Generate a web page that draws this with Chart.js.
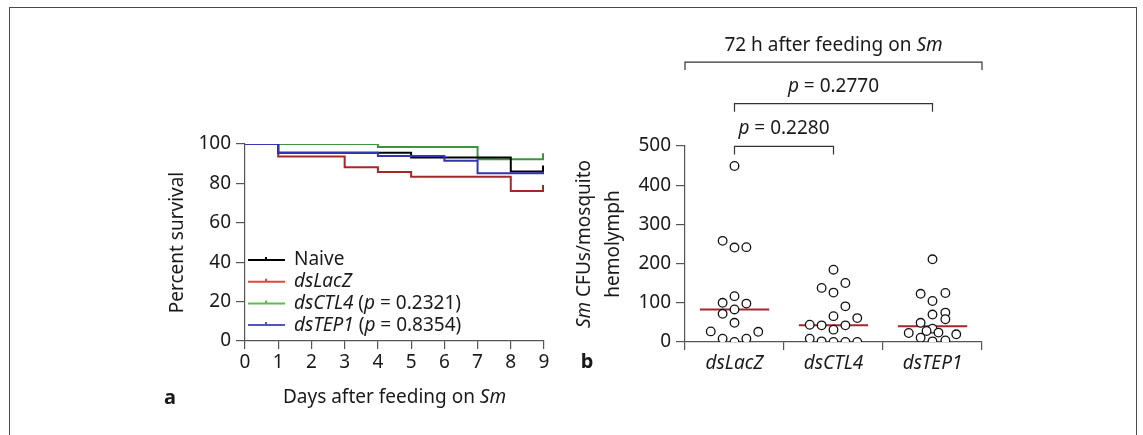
<!DOCTYPE html>
<html>
<head>
<meta charset="utf-8">
<script src="https://cdn.jsdelivr.net/npm/chart.js@4.4.1/dist/chart.umd.min.js"></script>
<style>
html, body { margin: 0; padding: 0; background: #fff; overflow: hidden; }
body { width: 1143px; height: 435px; position: relative; }
#frame { position: absolute; left: 9px; top: 7px; width: 1128px; height: 470px; border: 1px solid #4a4a4a; box-sizing: border-box; }
#boxA { position: absolute; left: 140px; top: 120px; width: 420px; height: 300px; }
#boxB { position: absolute; left: 570px; top: 20px; width: 430px; height: 380px; }
</style>
</head>
<body>
<div id="frame"></div>
<div id="boxA"><canvas id="survivalChart"></canvas></div>
<div id="boxB"><canvas id="cfuChart"></canvas></div>
<script>
// ---- panel a: survival curves (day of change, percent after change) ----
var naiveDays  = [0, 1, 5, 8, 9];
var naiveSurv  = [100, 95.6, 93.2, 86, 86];
var lacZDays   = [0, 1, 3, 4, 5, 8, 9];
var lacZSurv   = [100, 93.6, 88.2, 85.8, 83.4, 76.1, 76.1];
var ctl4Days   = [0, 4, 7, 9];
var ctl4Surv   = [100, 98.5, 92.2, 92.2];
var tep1Days   = [0, 1, 4, 6, 7, 9];
var tep1Surv   = [100, 95.6, 93.9, 91.5, 85.1, 85.1];
var legendNames = ['Naive', 'dsLacZ', 'dsCTL4', 'dsTEP1'];
var legendP     = [null, null, '0.2321', '0.8354'];

// ---- panel b: CFUs per mosquito ----
var groups      = ['dsLacZ', 'dsCTL4', 'dsTEP1'];
var lacZCfu     = [449, 258, 241, 242, 117, 100, 98, 72, 83, 49, 27, 26, 8.5, 0, 8.5];
var lacZJitter  = [0, -0.12, 0, 0.12, 0, -0.12, 0.12, -0.12, 0, 0, -0.24, 0.24, -0.12, 0, 0.12];
var ctl4Cfu     = [184.5, 150.5, 138, 126, 91, 61, 66, 44, 42.5, 42.5, 31.5, 8.5, 1.7, 0, 0, 0];
var ctl4Jitter  = [0, 0.12, -0.12, 0, 0.12, 0.24, 0, -0.24, -0.12, 0.12, 0, -0.24, -0.12, 0, 0.12, 0.24];
var tep1Cfu     = [211, 123, 125, 104.6, 70, 75, 58, 49, 34, 23, 28, 24, 19.6, 11, 1.7, 4];
var tep1Jitter  = [0, -0.12, 0.13, 0, 0, 0.13, 0.13, -0.12, 0, -0.24, -0.06, 0.06, 0.24, -0.12, 0, 0.13];
var medians     = [83, 42.5, 40];
var pValues     = ['0.2280', '0.2770'];

var FONT = '"Noto Sans", "Open Sans", sans-serif';
var TEXT = '#1a1a1a';
var AXIS = '#555';
var FS = 19;

function font(italic, size, bold) {
  return (italic ? 'italic ' : '') + (bold ? 'bold ' : '') + size + 'px ' + FONT;
}

// draws a run of [text, italic] pieces on one baseline
function drawRich(ctx, parts, x, y, size, align) {
  var w = 0;
  parts.forEach(function (p) { ctx.font = font(p[1], size); w += ctx.measureText(p[0]).width; });
  var cx = align === 'center' ? x - w / 2 : (align === 'right' ? x - w : x);
  ctx.textAlign = 'left';
  ctx.textBaseline = 'middle';
  ctx.fillStyle = TEXT;
  parts.forEach(function (p) {
    ctx.font = font(p[1], size);
    ctx.fillText(p[0], cx, y);
    cx += ctx.measureText(p[0]).width;
  });
}

function pts(xs, ys) {
  return xs.map(function (x, i) { return {x: x, y: ys[i]}; });
}

var lineColors   = ['#000000', '#a52828', '#3d943d', '#3434b4'];
var legendColors = ['#000000', '#e0483c', '#5cbc4e', '#5252c2'];

function survSet(days, surv, color) {
  return {
    data: pts(days, surv),
    borderColor: color,
    borderWidth: 2,
    stepped: 'before',
    pointRadius: 0,
    fill: false
  };
}

var survivalChart = new Chart(document.getElementById('survivalChart'), {
  type: 'line',
  data: {
    // first dataset is drawn on top
    datasets: [
      survSet(tep1Days, tep1Surv, lineColors[3]),
      survSet(naiveDays, naiveSurv, lineColors[0]),
      survSet(ctl4Days, ctl4Surv, lineColors[2]),
      survSet(lacZDays, lacZSurv, lineColors[1])
    ]
  },
  options: {
    animation: false,
    responsive: true,
    maintainAspectRatio: false,
    layout: { padding: { top: 24, right: 16, left: 0, bottom: 0 } },
    plugins: { legend: { display: false }, tooltip: { enabled: false } },
    scales: {
      x: {
        type: 'linear', min: 0, max: 9,
        ticks: { stepSize: 1, color: TEXT, font: { family: FONT, size: FS }, padding: 2 },
        grid: { drawOnChartArea: false, tickLength: 8, color: AXIS, lineWidth: 1.2 },
        border: { color: AXIS, width: 1.2 },
        afterFit: function (s) { s.height = 79; }
      },
      y: {
        min: 0, max: 100,
        ticks: { stepSize: 20, color: TEXT, font: { family: FONT, size: FS }, padding: 5 },
        grid: { drawOnChartArea: false, tickLength: 9, color: AXIS, lineWidth: 1.2 },
        border: { color: AXIS, width: 1.2 },
        afterFit: function (s) { s.width = 105; }
      }
    }
  },
  plugins: [{
    id: 'survivalDecor',
    afterDatasetsDraw: function (chart) {
      var ctx = chart.ctx;
      ctx.save();
      // censor ticks at the end of each curve
      chart.data.datasets.forEach(function (ds, i) {
        var els = chart.getDatasetMeta(i).data;
        var last = els[els.length - 1];
        ctx.strokeStyle = ds.borderColor;
        ctx.lineWidth = 2;
        ctx.beginPath();
        ctx.moveTo(last.x - 1, last.y);
        ctx.lineTo(last.x - 1, last.y - 6);
        ctx.stroke();
      });
      ctx.restore();
    },
    afterDraw: function (chart) {
      var ctx = chart.ctx;
      var a = chart.chartArea;
      ctx.save();
      // legend
      for (var i = 0; i < legendNames.length; i++) {
        var y = a.bottom - 81 + i * 21.7;
        ctx.strokeStyle = legendColors[i];
        ctx.lineWidth = 2;
        ctx.beginPath();
        ctx.moveTo(a.left + 3, y);
        ctx.lineTo(a.left + 40, y);
        ctx.moveTo(a.left + 21, y);
        ctx.lineTo(a.left + 21, y - 3);
        ctx.stroke();
        var parts = [[legendNames[i], i > 0]];
        if (legendP[i]) parts.push([' (', false], ['p', true], [' = ' + legendP[i] + ')', false]);
        drawRich(ctx, parts, a.left + 49, y, FS, 'left');
      }
      // axis titles
      drawRich(ctx, [['Days after feeding on ', false], ['Sm', true]], (a.left + a.right) / 2, a.bottom + 57, FS, 'center');
      ctx.font = font(false, 20, true);
      ctx.fillStyle = TEXT;
      ctx.textAlign = 'center';
      ctx.textBaseline = 'middle';
      ctx.fillText('a', a.left - 75, a.bottom + 57);
      ctx.translate(a.left - 67, (a.top + a.bottom) / 2);
      ctx.rotate(-Math.PI / 2);
      drawRich(ctx, [['Percent survival', false]], 0, 0, FS, 'center');
      ctx.restore();
    }
  }]
});

function cfuSet(values, jitter, groupIndex) {
  return {
    type: 'scatter',
    xAxisID: 'xj',
    data: values.map(function (v, i) { return {x: groupIndex + jitter[i], y: v}; }),
    pointStyle: 'circle',
    pointRadius: 4.3,
    pointBorderWidth: 1.3,
    pointBorderColor: '#111',
    pointBackgroundColor: '#fff'
  };
}

function medianSet(groupIndex) {
  return {
    type: 'line',
    xAxisID: 'xj',
    data: [{x: groupIndex - 0.35, y: medians[groupIndex]}, {x: groupIndex + 0.35, y: medians[groupIndex]}],
    borderColor: '#a3272c',
    borderWidth: 2,
    pointRadius: 0,
    fill: false
  };
}

var cfuChart = new Chart(document.getElementById('cfuChart'), {
  type: 'scatter',
  data: {
    labels: groups,
    datasets: [
      cfuSet(lacZCfu, lacZJitter, 0),
      cfuSet(ctl4Cfu, ctl4Jitter, 1),
      cfuSet(tep1Cfu, tep1Jitter, 2),
      medianSet(0), medianSet(1), medianSet(2)
    ]
  },
  options: {
    animation: false,
    responsive: true,
    maintainAspectRatio: false,
    layout: { padding: { top: 126, right: 18, left: 0, bottom: 0 } },
    plugins: { legend: { display: false }, tooltip: { enabled: false } },
    scales: {
      x: {
        type: 'category',
        labels: groups,
        offset: true,
        ticks: { color: TEXT, font: { family: FONT, size: FS, style: 'italic' }, padding: 2 },
        grid: { offset: true, drawOnChartArea: false, tickLength: 8, color: AXIS, lineWidth: 1.2 },
        border: { color: AXIS, width: 1.2 },
        afterFit: function (s) { s.height = 58; }
      },
      xj: {
        type: 'linear', min: -0.5, max: 2.5, display: false
      },
      y: {
        min: 0, max: 500,
        ticks: { stepSize: 100, color: TEXT, font: { family: FONT, size: FS }, padding: 5 },
        grid: { drawOnChartArea: false, tickLength: 9, color: AXIS, lineWidth: 1.2 },
        border: { color: AXIS, width: 1.2 },
        afterFit: function (s) { s.width = 115; }
      }
    }
  },
  plugins: [{
    id: 'cfuDecor',
    afterDraw: function (chart) {
      var ctx = chart.ctx;
      var a = chart.chartArea;
      var xs = chart.scales.x;
      var ys = chart.scales.y;
      ctx.save();
      ctx.strokeStyle = '#333';
      ctx.lineWidth = 1.2;
      function bracket(x1, x2, v) {
        var y = ys.getPixelForValue(v);
        ctx.beginPath();
        ctx.moveTo(x1, y + 8);
        ctx.lineTo(x1, y);
        ctx.lineTo(x2, y);
        ctx.lineTo(x2, y + 8);
        ctx.stroke();
        return y;
      }
      var g0 = xs.getPixelForValue(0), g1 = xs.getPixelForValue(1), g2 = xs.getPixelForValue(2);
      var yTop = bracket(a.left, a.right, 714);
      drawRich(ctx, [['72 h after feeding on ', false], ['Sm', true]], (a.left + a.right) / 2, yTop - 17, FS, 'center');
      var y2 = bracket(g0, g2, 608);
      drawRich(ctx, [['p', true], [' = ' + pValues[1], false]], (g0 + g2) / 2, y2 - 17, FS, 'center');
      var y1 = bracket(g0, g1, 499);
      drawRich(ctx, [['p', true], [' = ' + pValues[0], false]], (g0 + g1) / 2, y1 - 18, FS, 'center');

      ctx.font = font(false, 20, true);
      ctx.fillStyle = TEXT;
      ctx.textAlign = 'center';
      ctx.textBaseline = 'middle';
      ctx.fillText('b', a.left - 98, a.bottom + 20);

      ctx.translate(a.left - 100, (a.top + a.bottom) / 2);
      ctx.rotate(-Math.PI / 2);
      drawRich(ctx, [['Sm', true], [' CFUs/mosquito', false]], 0, 0, FS, 'center');
      drawRich(ctx, [['hemolymph', false]], 0, 29, FS, 'center');
      ctx.restore();
    }
  }]
});
</script>
</body>
</html>
